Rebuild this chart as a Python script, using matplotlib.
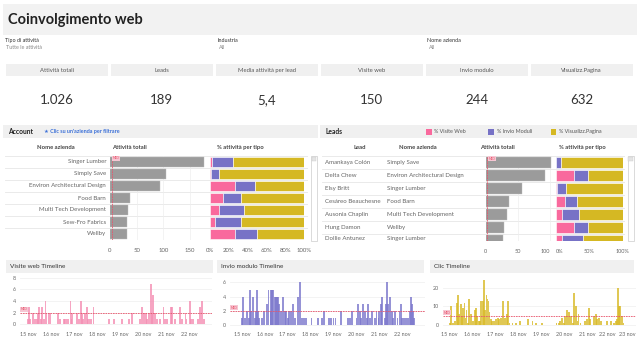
import matplotlib
matplotlib.use("Agg")
import matplotlib.pyplot as plt
from matplotlib.patches import Rectangle
from matplotlib.transforms import ScaledTranslation

plt.rcParams['font.family'] = ['Lato', 'DejaVu Sans']

# ==========================
# Data
# ==========================
kpi_labels = ["Attività totali", "Leads", "Media attività per lead",
              "Visite web", "Invio modulo", "Visualizz.Pagina"]
kpi_values = ["1.026", "189", "5,4", "150", "244", "632"]

aziende = ["Singer Lumber", "Simply Save", "Environ Architectural Design", "Food Barn",
           "Multi Tech Development", "Sew-Fro Fabrics", "Wellby"]
az_totali = [176, 106, 94, 38, 34, 31, 31]
az_web = [2.5, 1, 27, 14, 10, 5, 27]
az_moduli = [21.5, 8.5, 21, 19, 26, 28, 23]
az_pagina = [76, 90.5, 52, 67, 64, 67, 50]
az_mediana = 4

lead_nomi = ["Amankaya Colón", "Delta Chew", "Elsy Britt", "Cesáreo Beauchesne",
             "Ausonia Chaplin", "Hung Damon", "Dollie Antunez"]
lead_aziende = ["Simply Save", "Environ Architectural Design", "Singer Lumber", "Food Barn",
                "Multi Tech Development", "Wellby", "Singer Lumber"]
lead_totali = [102, 93, 57, 37, 34, 29, 27]
lead_web = [0, 27, 2.5, 14, 10, 28, 9.5]
lead_moduli = [8.5, 21, 13.5, 18, 25, 20, 31.5]
lead_pagina = [91.5, 52, 84, 68, 65, 52, 59]
lead_mediana = 2

giorni = ["15 nov", "16 nov", "17 nov", "18 nov", "19 nov", "20 nov", "21 nov", "22 nov", "23 nov"]

# hours from 15 nov 00:00, counts
web_ore = [0, 1, 2, 5, 7, 9, 10, 11, 13, 14, 16, 18, 19, 21, 23, 31, 33, 37, 38, 40,
           42, 44, 45, 46, 51, 53, 55, 56, 57, 59, 61, 62, 64, 66, 68, 84, 89, 98, 105, 108,
           116, 117, 119, 121, 123, 124, 126, 128, 129, 130, 132, 134, 137, 141, 143, 145, 149, 150, 153, 158,
           160, 164, 165, 169, 170, 172, 177, 179, 181, 183]
web_val = [1, 3, 1, 2, 1, 1, 2, 3, 1, 3, 1, 4, 2, 2, 2, 2, 1, 1, 1, 1,
           1, 4, 1, 2, 2, 1, 4, 2, 1, 2, 3, 1, 1, 1, 3, 1, 1, 1, 1, 2,
           1, 1, 3, 2, 2, 1, 2, 7, 2, 5, 2, 1, 1, 3, 1, 1, 3, 3, 1, 3,
           1, 2, 1, 4, 1, 1, 1, 3, 4, 1]
web_mediana = 2

mod_ore = [0, 1, 3, 5, 6, 8, 9, 10, 12, 14, 15, 16, 17, 18, 21, 23, 26, 28, 30, 31,
           32, 33, 35, 36, 37, 38, 39, 41, 43, 45, 46, 48, 49, 51, 52, 54, 56, 59, 61, 63,
           65, 67, 73, 80, 84, 86, 91, 93, 96, 98, 104, 111, 113, 115, 120, 122, 124, 125, 127, 129,
           131, 132, 134, 136, 139, 141, 143, 144, 146, 147, 150, 151, 152, 153, 155, 157, 158, 160, 163, 165,
           167, 168, 170, 172, 174, 176, 177, 178, 179, 180]
mod_val = [1, 4, 1, 2, 2, 1, 5, 2, 4, 1, 2, 5, 2, 1, 1, 2, 3, 5, 2, 5,
           5, 5, 4, 4, 4, 4, 3, 2, 4, 2, 2, 1, 2, 2, 2, 3, 1, 4, 6, 1,
           1, 1, 1, 1, 1, 2, 1, 1, 1, 1, 2, 1, 1, 2, 1, 3, 2, 1, 3, 2,
           1, 3, 1, 2, 1, 2, 1, 2, 3, 4, 1, 3, 6, 3, 4, 2, 1, 2, 1, 2,
           3, 1, 1, 1, 1, 2, 4, 3, 2, 1]
mod_mediana = 2

clic_ore = [1, 2, 4, 6, 8, 9, 10, 12, 13, 14, 16, 17, 18, 20, 21, 23, 25, 27, 28, 29,
            31, 32, 33, 35, 36, 37, 39, 40, 41, 42, 44, 45, 47, 49, 51, 52, 54, 56, 58, 60,
            61, 63, 66, 70, 74, 82, 87, 91, 97, 112, 115, 116, 118, 120, 121, 123, 125, 127, 129, 130,
            132, 134, 135, 137, 142, 144, 146, 147, 151, 153, 154, 156, 158, 159, 165, 169, 172, 174, 175, 176,
            177, 178, 180, 182]
clic_val = [1, 10, 1, 2, 12, 16, 6, 11, 5, 9, 12, 4, 8, 1, 14, 6, 2, 8, 9, 5,
            2, 2, 13, 13, 24, 8, 16, 14, 13, 7, 3, 2, 2, 3, 4, 3, 4, 13, 4, 6,
            13, 1, 1, 1, 2, 3, 2, 1, 1, 1, 1, 2, 4, 1, 5, 8, 7, 5, 1, 17,
            10, 2, 6, 1, 2, 3, 9, 3, 5, 6, 3, 4, 2, 2, 2, 2, 1, 2, 3, 20,
            10, 10, 5, 1]
clic_mediana = 5

# ==========================
# Colours
# ==========================
PINK = "#f9699d"
PURPLE = "#7772c6"
YELLOW = "#d5b823"
GREY_BAR = "#9b9b9b"
BAND = "#f0f0f0"
TXT = "#444444"
RED = "#e8556b"

W, H = 640, 347
fig = plt.figure(figsize=(6.4, 3.47), dpi=100)
fig.patch.set_facecolor("white")

bg = fig.add_axes([0, 0, 1, 1])
bg.set_xlim(0, W)
bg.set_ylim(H, 0)
bg.axis("off")


def band(x, y, w, h, c=BAND):
    bg.add_patch(Rectangle((x, y), w, h, facecolor=c, lw=0))


def px_ax(x0, y0, x1, y1, ls=4.3):
    ax = fig.add_axes([x0 / W, 1 - y1 / H, (x1 - x0) / W, (y1 - y0) / H])
    ax.patch.set_alpha(0)
    for s in ax.spines.values():
        s.set_visible(False)
    ax.tick_params(length=0, labelsize=ls, colors="#666666")
    return ax


# ==========================
# Title, filters, KPIs
# ==========================
band(3, 4, 634, 31, "#f2f2f2")
bg.text(8, 20, "Coinvolgimento web", fontsize=10.5, fontweight="bold", color="#222222", va="center")

filtri = [("Tipo di attività", "Tutte le attività", 5), ("Industria", "All", 217), ("Nome azienda", "All", 427)]
for lab, val, x in filtri:
    bg.text(x, 40.5, lab, fontsize=3.9, color="#333333", va="center")
    bg.text(x + 1.5, 47.5, val, fontsize=3.9, color="#888888", va="center")

for i, (lab, val) in enumerate(zip(kpi_labels, kpi_values)):
    x = 5.7 + 105 * i
    band(x, 64, 102, 12)
    bg.text(x + 51, 70.3, lab, fontsize=4.2, color="#555555", ha="center", va="center")
    bg.text(x + 51, 100, val, fontsize=9.5, color="#333333", ha="center", va="center")

# ==========================
# Account table
# ==========================
band(3, 125, 315, 13)
bg.text(8, 131.8, "Account", fontsize=4.8, fontweight="bold", color="#222222", va="center")
bg.text(44, 131.8, "★ Clic su un'azienda per filtrare", fontsize=3.9, fontweight="bold",
        color="#3a6fd8", va="center")
bg.text(56, 147, "Nome azienda", fontsize=4.2, fontweight="bold", color=TXT, ha="center", va="center")
bg.text(112, 147, "Attività totali", fontsize=4.2, fontweight="bold", color=TXT, va="center")
bg.text(217, 147, "% attività per tipo", fontsize=4.2, fontweight="bold", color=TXT, va="center")

n = len(aziende)
tab = px_ax(5, 156, 308, 240)
tab.set_xlim(5, 308)
tab.set_ylim(n - 0.5, -0.5)
tab.set_xticks([])
tab.set_yticks([])
for i in range(n + 1):
    tab.axhline(i - 0.5, color="#e6e6e6", lw=0.6)
for i, a in enumerate(aziende):
    tab.text(106, i, a, fontsize=4.4, color="#666666", ha="right", va="center")

ax1 = px_ax(110, 156, 207, 240)
ax1.barh(range(n), az_totali, height=0.84, color=GREY_BAR, edgecolor="#bdbdbd", lw=0.3)
ax1.set_xlim(0, 182)
ax1.set_ylim(n - 0.5, -0.5)
ax1.set_yticks([])
ax1.set_xticks([0, 50, 100, 150])
ax1.tick_params(axis="x", pad=6)
ax1.xaxis.grid(True, color="#eeeeee", lw=0.5)
ax1.set_axisbelow(True)
ax1.axvline(az_mediana, color=RED, lw=0.6, ls=(0, (2, 1)))
ax1.text(az_mediana + 1.5, -0.3, "MED", fontsize=2.2, color=RED, va="center",
         bbox=dict(facecolor="#f6c6d3", edgecolor="none", pad=0.4))

ax2 = px_ax(210, 156, 304, 240)
left = [0] * n
for vals, c in [(az_web, PINK), (az_moduli, PURPLE), (az_pagina, YELLOW)]:
    ax2.barh(range(n), vals, left=left, height=0.84, color=c, edgecolor="white", lw=0.4)
    left = [l + v for l, v in zip(left, vals)]
ax2.set_xlim(0, 100)
ax2.set_ylim(n - 0.5, -0.5)
ax2.set_yticks([])
ax2.set_xticks(range(0, 101, 20))
ax2.set_xticklabels([f"{v}%" for v in range(0, 101, 20)])
ax2.tick_params(axis="x", pad=6)

bg.add_patch(Rectangle((311, 156), 6, 85, facecolor="white", edgecolor="#cccccc", lw=0.5))
bg.add_patch(Rectangle((311.8, 157), 4.4, 4, facecolor="#e4e4e4", edgecolor="#cccccc", lw=0.3))

# ==========================
# Leads table
# ==========================
band(320, 125, 317, 13)
bg.text(325, 131.8, "Leads", fontsize=4.8, fontweight="bold", color="#222222", va="center")
for x, lab, c in [(426, "% Visite Web", PINK), (488.3, "% Invio Moduli", PURPLE), (550.7, "% Visualizz.Pagina", YELLOW)]:
    bg.add_patch(Rectangle((x, 129), 5.7, 5.7, facecolor=c, lw=0))
    bg.text(x + 8.5, 131.8, lab, fontsize=3.9, color="#555555", va="center")
bg.text(360, 147.3, "Lead", fontsize=4.2, fontweight="bold", color=TXT, ha="center", va="center")
bg.text(418, 147.3, "Nome azienda", fontsize=4.2, fontweight="bold", color=TXT, ha="center", va="center")
bg.text(497, 147.3, "Attività totali", fontsize=4.2, fontweight="bold", color=TXT, ha="center", va="center")
bg.text(582, 147.3, "% attività per tipo", fontsize=4.2, fontweight="bold", color=TXT, ha="center", va="center")

m = len(lead_nomi)
lead_ylim = (6.07, -0.52)
tab2 = px_ax(322, 156, 625, 241)
tab2.set_xlim(322, 625)
tab2.set_ylim(*lead_ylim)
tab2.set_xticks([])
tab2.set_yticks([])
for i in range(m):
    tab2.axhline(i - 0.5, color="#e6e6e6", lw=0.6)
tab2.axhline(lead_ylim[0], color="#e6e6e6", lw=0.6)
for i, (ld, az) in enumerate(zip(lead_nomi, lead_aziende)):
    tab2.text(325, min(i, 5.85), ld, fontsize=4.4, color="#666666", va="center")
    tab2.text(387, min(i, 5.85), az, fontsize=4.4, color="#666666", va="center")

ax3 = px_ax(485.7, 156, 553, 241, ls=4.0)
ax3.barh(range(m), lead_totali, height=0.84, color=GREY_BAR, edgecolor="#bdbdbd", lw=0.3)
ax3.set_xlim(0, 105)
ax3.set_ylim(*lead_ylim)
ax3.set_yticks([])
ax3.set_xticks([0, 50, 100])
ax3.tick_params(axis="x", pad=6)
ax3.xaxis.grid(True, color="#eeeeee", lw=0.5)
ax3.set_axisbelow(True)
ax3.axvline(lead_mediana, color=RED, lw=0.6, ls=(0, (2, 1)))
ax3.text(lead_mediana + 2, -0.3, "MED", fontsize=2.2, color=RED, va="center",
         bbox=dict(facecolor="#f6c6d3", edgecolor="none", pad=0.4))
ax3.get_xticklabels()[-1].set_ha("right")

ax4 = px_ax(555.7, 156, 622.7, 241, ls=4.0)
left = [0] * m
for vals, c in [(lead_web, PINK), (lead_moduli, PURPLE), (lead_pagina, YELLOW)]:
    ax4.barh(range(m), vals, left=left, height=0.84, color=c, edgecolor="white", lw=0.4)
    left = [l + v for l, v in zip(left, vals)]
ax4.set_xlim(0, 100)
ax4.set_ylim(*lead_ylim)
ax4.set_yticks([])
ax4.set_xticks([0, 50, 100])
ax4.set_xticklabels(["0%", "50%", "100%"])
ax4.tick_params(axis="x", pad=6)
ax4.get_xticklabels()[0].set_ha("left")

bg.add_patch(Rectangle((627.5, 156), 6, 85, facecolor="white", edgecolor="#cccccc", lw=0.5))
bg.add_patch(Rectangle((628.3, 157), 4.4, 4, facecolor="#e4e4e4", edgecolor="#cccccc", lw=0.3))

# ==========================
# Timelines
# ==========================
timelines = [
    ("Visite web Timeline", 5.7, 207, (20, 275, 212, 329), (-8.7, 191.7), (-0.8, 8.46),
     [0, 2, 4, 6, 8], web_ore, web_val, web_mediana, "#f48fb3", 8),
    ("Invio modulo Timeline", 216.7, 207, (230, 277, 425, 329), (-12.3, 191.7), (-0.56, 6.76),
     [0, 2, 4, 6], mod_ore, mod_val, mod_mediana, "#7c78cc", 8),
    ("Clic Timeline", 430, 204, (443, 277, 636, 329), (-6.5, 195), (-2.1, 25.7),
     [0, 10, 20], clic_ore, clic_val, clic_mediana, "#d9bb2a", 9),
]
for titolo, bx, bw, rect, xl, yl, yt, ore, val, med, col, nd in timelines:
    band(bx, 260, bw, 13)
    bg.text(bx + 4.5, 266.7, titolo, fontsize=4.6, color="#333333", va="center")
    ax = px_ax(*rect, ls=3.9)
    ax.bar(ore, val, width=1.9, color=col, alpha=0.8, lw=0)
    ax.set_xlim(*xl)
    ax.set_ylim(*yl)
    ax.set_yticks(yt)
    ax.set_xticks([24 * d for d in range(nd)])
    ax.set_xticklabels(giorni[:nd])
    ax.tick_params(axis="x", pad=2.5)
    ax.tick_params(axis="y", pad=3)
    ax.yaxis.grid(True, color="#eeeeee", lw=0.5)
    ax.set_axisbelow(True)
    ax.axhline(med, color=RED, lw=0.6, ls=(0, (2, 1)))
    ax.text(xl[0] + 1, med + (yl[1] - yl[0]) * 0.06, "MED", fontsize=2.2, color=RED, va="center",
            bbox=dict(facecolor="#f6c6d3", edgecolor="none", pad=0.4))
    if nd == 9:
        labs = ax.get_xticklabels()
        labs[-1].set_ha("right")
        labs[-1].set_transform(labs[-1].get_transform() + ScaledTranslation(0.02, 0, fig.dpi_scale_trans))
        labs[-2].set_transform(labs[-2].get_transform() + ScaledTranslation(-0.03, 0, fig.dpi_scale_trans))

fig.savefig("out.png", dpi=100, facecolor="white")
